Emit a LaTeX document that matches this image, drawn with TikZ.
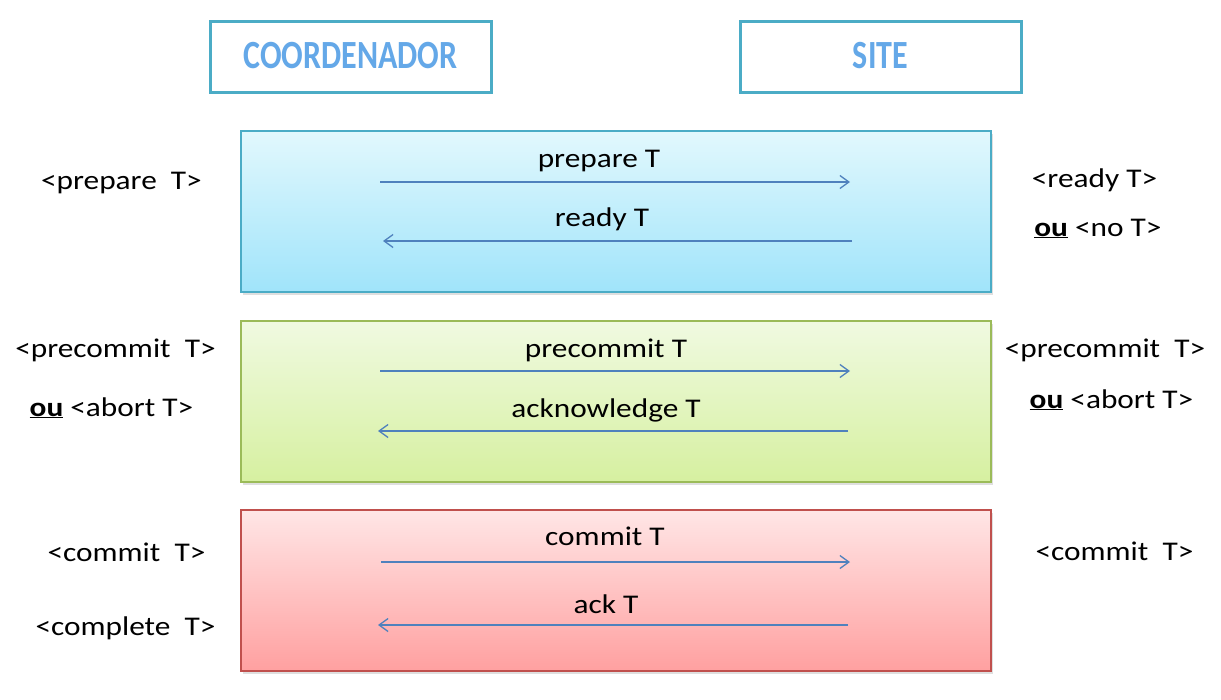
\documentclass[tikz,border=0pt]{standalone}
\usepackage{fontspec}
\setmainfont{Carlito}
\usetikzlibrary{arrows.meta,shadows}
\definecolor{hdrborder}{RGB}{75,172,198}
\definecolor{hdrtext}{RGB}{100,168,232}
\definecolor{arrowc}{RGB}{79,129,189}
\definecolor{blueborder}{RGB}{75,172,198}
\definecolor{bluetop}{RGB}{226,248,253}
\definecolor{bluebot}{RGB}{160,228,250}
\definecolor{greenborder}{RGB}{155,187,89}
\definecolor{greentop}{RGB}{240,250,225}
\definecolor{greenbot}{RGB}{214,240,160}
\definecolor{redborder}{RGB}{192,80,77}
\definecolor{redtop}{RGB}{255,230,230}
\definecolor{redbot}{RGB}{255,160,160}
\tikzset{
  hdr/.style={draw=hdrborder, line width=3pt, fill=white, minimum width=281pt, minimum height=71pt, inner sep=0pt,
    font=\fontsize{32}{36}\selectfont\bfseries, text=hdrtext, drop shadow={opacity=0.15, shadow xshift=2pt, shadow yshift=-2pt}},
  phase/.style={line width=1.4pt, minimum width=750pt, minimum height=161pt, inner sep=0pt,
    drop shadow={opacity=0.25, shadow xshift=2pt, shadow yshift=-3pt}},
  msg/.style={draw=arrowc, line width=1.3pt, -{Straight Barb[length=9pt,width=13pt,line width=1.3pt]}},
  lbl/.style={anchor=base, font=\fontsize{27}{32}\selectfont, inner sep=0pt, xscale=1.16, transform shape}
}
\begin{document}
\begin{tikzpicture}[x=1pt,y=-1pt]
\useasboundingbox (0,0) rectangle (1221,699);
% headers
\node[hdr] (coord) at (350.5,56.5) {\raisebox{2pt}{\scalebox{1}[1.25]{COORDENADOR}}};
\node[hdr] (site) at (880.5,56.5) {\raisebox{2pt}{\scalebox{1}[1.25]{SITE}}};
% phase boxes
\node[phase, draw=blueborder, top color=bluetop, bottom color=bluebot] (p1) at (616,211.5) {};
\node[phase, draw=greenborder, top color=greentop, bottom color=greenbot] (p2) at (616,401.5) {};
\node[phase, draw=redborder, top color=redtop, bottom color=redbot] (p3) at (616,590.5) {};
% message endpoints
\coordinate (a1s) at (380,182); \coordinate (a1e) at (850,182);
\coordinate (a2s) at (852,241); \coordinate (a2e) at (383,241);
\coordinate (b1s) at (380,371); \coordinate (b1e) at (850,371);
\coordinate (b2s) at (848,431); \coordinate (b2e) at (378,431);
\coordinate (c1s) at (381,562); \coordinate (c1e) at (850,562);
\coordinate (c2s) at (848,625); \coordinate (c2e) at (378,625);
\draw[msg] (a1s) -- (a1e);
\draw[msg] (a2s) -- (a2e);
\draw[msg] (b1s) -- (b1e);
\draw[msg] (b2s) -- (b2e);
\draw[msg] (c1s) -- (c1e);
\draw[msg] (c2s) -- (c2e);
% message labels
\node[lbl] (m1) at (599,167) {prepare T};
\node[lbl] (m2) at (602,226) {ready T};
\node[lbl] (m3) at (606,357) {precommit T};
\node[lbl] (m4) at (606,417) {acknowledge T};
\node[lbl] (m5) at (605,545) {commit T};
\node[lbl] (m6) at (606,613) {ack T};
% coordinator log
\node[lbl] (l1) at (121.5,189) {<prepare\ \ T>};
\node[lbl] (l2) at (115.5,357) {<precommit\ \ T>};
\node[lbl] (l3) at (111.5,416) {\underline{\textbf{ou}} <abort T>};
\node[lbl] (l4) at (126.5,561) {<commit\ \ T>};
\node[lbl] (l5) at (125.5,635) {<complete\ \ T>};
% site log
\node[lbl] (r1) at (1094.5,187) {<ready T>};
\node[lbl] (r2) at (1098,236) {\underline{\textbf{ou}} <no T>};
\node[lbl] (r3) at (1105,357) {<precommit\ \ T>};
\node[lbl] (r4) at (1111.5,408) {\underline{\textbf{ou}} <abort T>};
\node[lbl] (r5) at (1114.5,560) {<commit\ \ T>};
\end{tikzpicture}
\end{document}
